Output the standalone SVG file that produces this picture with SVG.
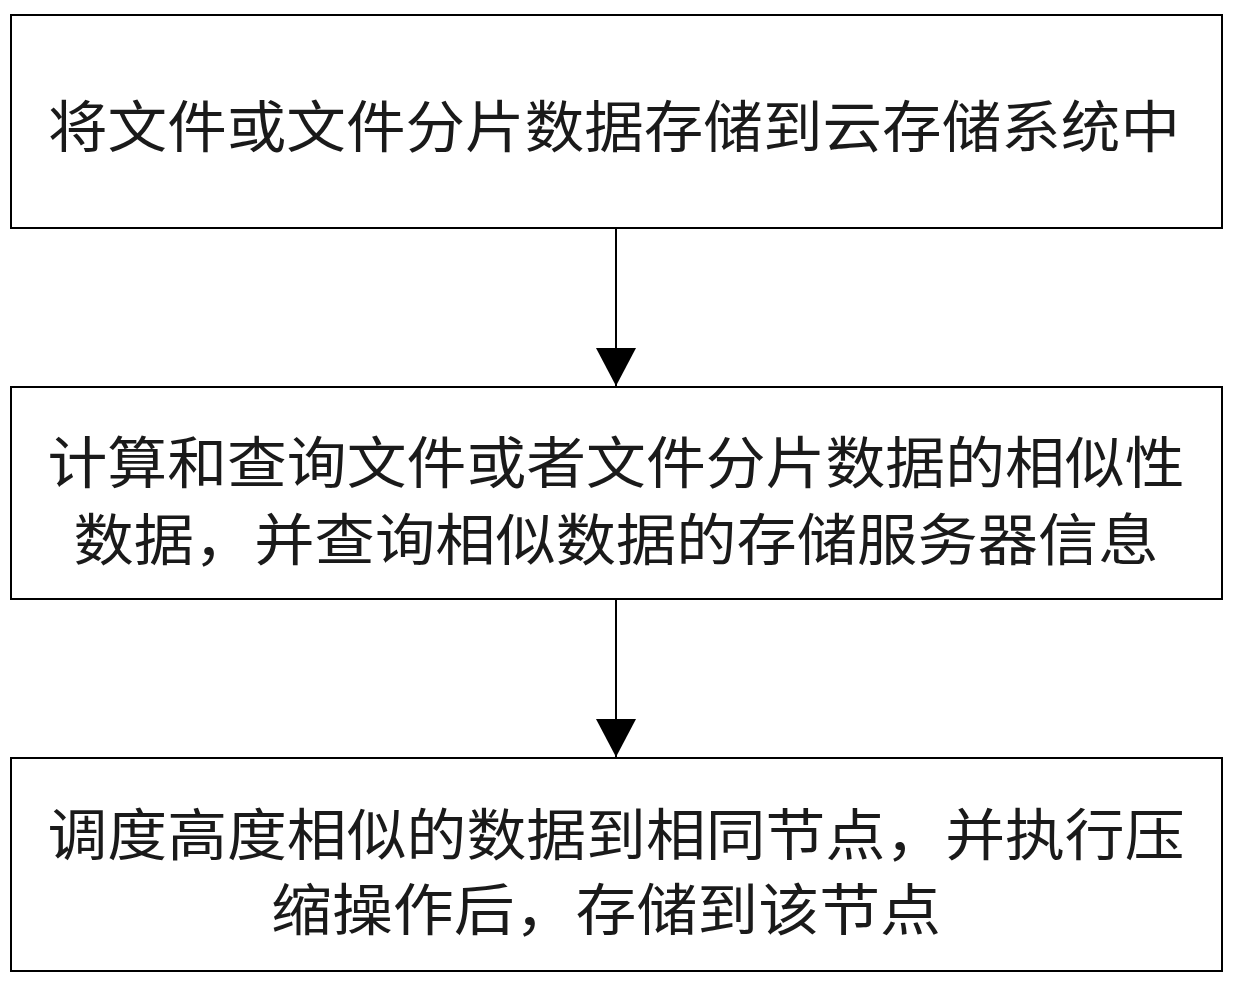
<svg xmlns="http://www.w3.org/2000/svg" width="1235" height="986" viewBox="0 0 1235 986">
<style>
.box{fill:#fff;stroke:#000;stroke-width:2}
.t{font-family:"Noto Sans CJK SC","Noto Sans CJK JP",sans-serif;font-size:56px;fill:#1a1a1a;text-anchor:middle;dominant-baseline:central}
.ln{stroke:#000;stroke-width:2}
</style>
<defs><marker id="ah" markerWidth="38" markerHeight="40" refX="38" refY="20" markerUnits="userSpaceOnUse" orient="auto" viewBox="0 0 38 40"><path d="M0 0L38 20L0 40Z" fill="#000"/></marker></defs>
<rect width="1235" height="986" fill="#fff"/>
<g id="n1"><rect class="box" x="11" y="15" width="1211" height="213"/><text class="t" x="614" y="122" textLength="1132" lengthAdjust="spacingAndGlyphs">将文件或文件分片数据存储到云存储系统中</text></g>
<g id="n2"><rect class="box" x="11" y="387" width="1211" height="212"/><text class="t" x="616" y="458" textLength="1137" lengthAdjust="spacingAndGlyphs">计算和查询文件或者文件分片数据的相似性</text><text class="t" x="616" y="535" textLength="1085" lengthAdjust="spacingAndGlyphs">数据，并查询相似数据的存储服务器信息</text></g>
<g id="n3"><rect class="box" x="11" y="758" width="1211" height="213"/><text class="t" x="616" y="830" textLength="1137" lengthAdjust="spacingAndGlyphs">调度高度相似的数据到相同节点，并执行压</text><text class="t" x="606" y="905" textLength="670" lengthAdjust="spacingAndGlyphs">缩操作后，存储到该节点</text></g>
<g id="connectors"><line class="ln" x1="616" y1="228" x2="616" y2="386" marker-end="url(#ah)"/><line class="ln" x1="616" y1="599" x2="616" y2="757" marker-end="url(#ah)"/></g>
</svg>
